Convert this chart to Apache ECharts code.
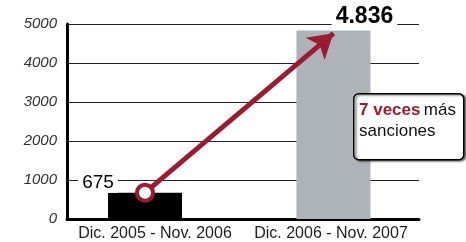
<!DOCTYPE html>
<html>
<head>
<meta charset="utf-8">
<script src="https://cdn.jsdelivr.net/npm/echarts@6/dist/echarts.min.js"></script>
<style>
  html, body { margin: 0; padding: 0; background: #fff; }
  #chart { width: 466px; height: 242px; }
</style>
</head>
<body>
<div id="chart"></div>
<script>
var periodos = ['Dic. 2005 - Nov. 2006', 'Dic. 2006 - Nov. 2007'];
var sanciones = [675, 4836];
var etiquetas = ['675', '4.836'];
var colores = ['#000000', '#adb3b8'];
var flechaFin = 4760; // fin de la flecha (la punta sobresale un poco)

var fuente = "'Liberation Sans', Arial, sans-serif";
var rojo = '#9b1b30';

var myChart = echarts.init(document.getElementById('chart'));

// las barras van sobre un eje x numérico oculto (0 y 1) para poder
// colocarlas un poco desplazadas respecto a las etiquetas, como en el original
var barras = sanciones.map(function (v, i) {
    return {
        value: [i, v],
        itemStyle: { color: colores[i] },
        label: i === 0
            ? { offset: [-47, 0], fontSize: 19, fontWeight: 'normal', distance: 0 }
            : { offset: [31, 0], fontSize: 23, fontWeight: 'bold', distance: 2 }
    };
});

var option = {
    animation: false,
    textStyle: { fontFamily: fuente },
    grid: { left: 67, right: 47, top: 24, bottom: 21 },
    xAxis: [
        {
            type: 'category',
            data: periodos,
            axisLine: { lineStyle: { color: '#000', width: 3 } },
            axisTick: { show: false },
            axisLabel: { fontSize: 16, color: '#222', margin: 7, interval: 0, fontFamily: fuente }
        },
        {
            type: 'value',
            min: -0.414,
            max: 1.454,
            show: false,
            splitLine: { show: false }
        }
    ],
    yAxis: {
        type: 'value',
        min: 0,
        max: 5000,
        interval: 1000,
        axisLine: { show: true, onZero: false, lineStyle: { color: '#000', width: 3 } },
        axisTick: { show: false },
        axisLabel: {
            fontSize: 15, fontStyle: 'italic', color: '#333', margin: 10, fontFamily: fuente,
            formatter: function (v) { return String(v); }
        },
        splitLine: { lineStyle: { color: '#222', width: 1 } }
    },
    series: [
        {
            type: 'bar',
            xAxisIndex: 1,
            barWidth: 74,
            data: barras,
            label: {
                show: true,
                position: 'top',
                color: '#000',
                fontFamily: fuente,
                backgroundColor: '#fff',
                padding: [0, 4],
                formatter: function (p) { return etiquetas[p.dataIndex]; }
            },
            emphasis: { disabled: true },
            markLine: {
                silent: true,
                z: 3,
                symbol: ['none', 'arrow'],
                symbolSize: [22, 24],
                label: { show: false },
                lineStyle: { color: rojo, width: 5, type: 'solid' },
                data: [[
                    { coord: [0, sanciones[0]] },
                    { coord: [1, flechaFin] }
                ]]
            },
            markPoint: {
                silent: true,
                z: 6,
                symbol: 'circle',
                symbolSize: 16,
                label: { show: false },
                itemStyle: { color: '#fff', borderColor: rojo, borderWidth: 4 },
                data: [{ coord: [0, sanciones[0]] }]
            }
        }
    ],
    graphic: [
        {
            type: 'rect',
            left: 353,
            top: 93,
            z: 10,
            shape: { width: 110, height: 66, r: 5 },
            style: {
                fill: '#fff',
                stroke: '#000',
                lineWidth: 1.5,
                shadowBlur: 2,
                shadowOffsetX: 2,
                shadowOffsetY: 1,
                shadowColor: 'rgba(0,0,0,0.55)'
            }
        },
        {
            type: 'text',
            left: 359,
            top: 102,
            z: 11,
            style: {
                text: '{a|7 veces} {b|más}\n{b|sanciones}',
                rich: {
                    a: { fontSize: 17, fontWeight: 'bold', fill: rojo, fontFamily: fuente, lineHeight: 21 },
                    b: { fontSize: 17, fill: '#111', fontFamily: fuente, lineHeight: 21 }
                }
            }
        }
    ]
};

myChart.setOption(option);
</script>
</body>
</html>
